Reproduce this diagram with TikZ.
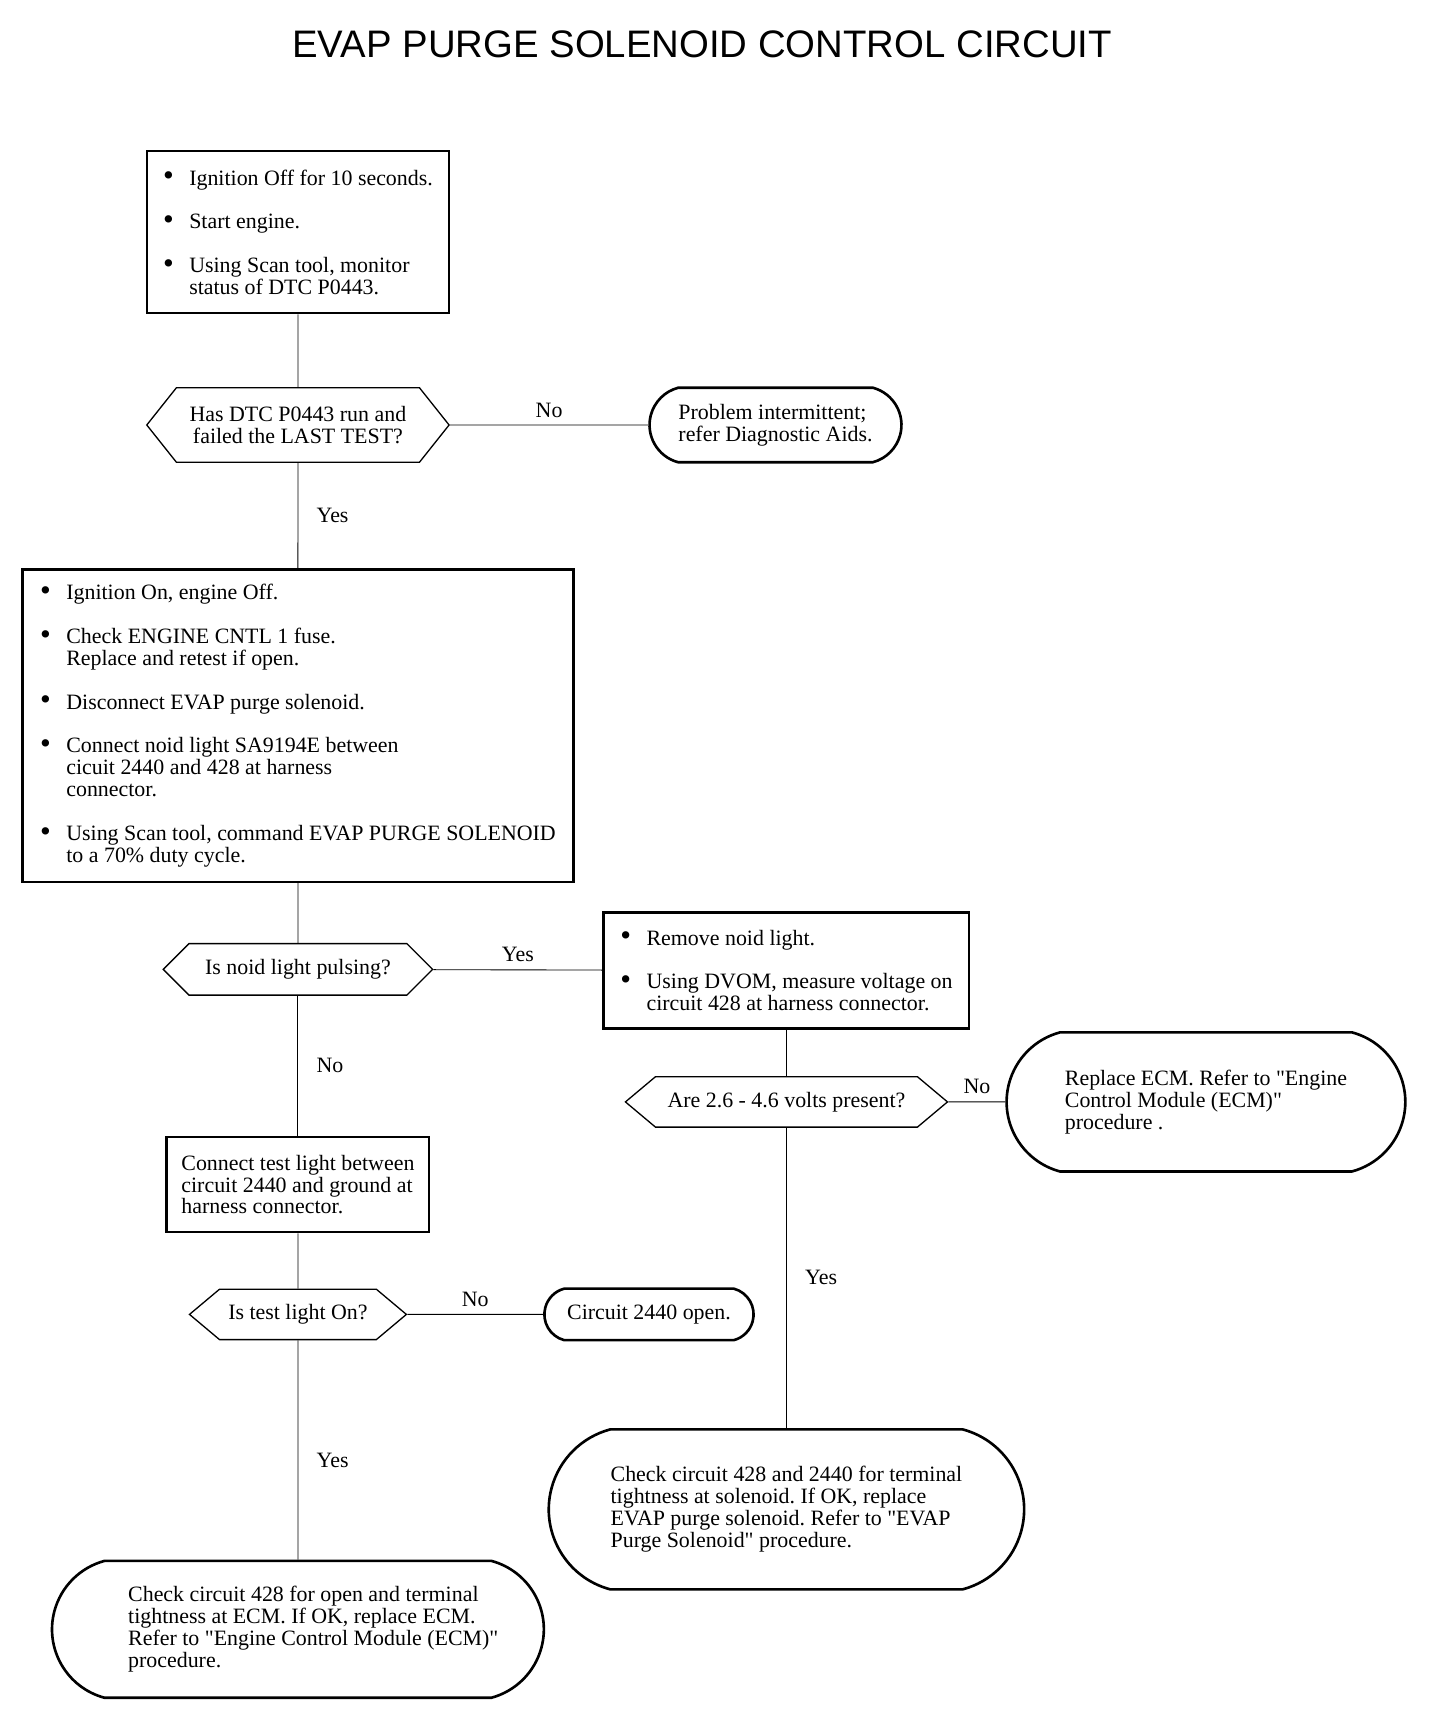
\documentclass[tikz,border=0pt]{standalone}
\usepackage{fontspec}
\setmainfont{Liberation Serif}[Ligatures=TeXOff]
\newfontfamily\titlefont{Liberation Sans}
\usetikzlibrary{shapes.misc,shapes.symbols}
\frenchspacing

\newcommand{\bitem}[1]{\makebox[12pt][l]{\raisebox{-0.4pt}{\fontsize{14}{10}\selectfont\textbullet}}#1}
\newcommand{\cont}{\hspace*{12pt}}

\begin{document}
\begin{tikzpicture}[x=0.5pt,y=-0.5pt,
    font=\fontsize{10}{10}\selectfont,
    stepbox/.style={rectangle,draw,line width=1pt,align=left,inner sep=0pt},
    askbox/.style={signal,signal to=east and west,draw,line width=0.6pt,align=center,inner sep=0pt},
    endbox/.style={rounded rectangle,rounded rectangle arc length=150,draw,line width=1.2pt,align=left,inner sep=0pt}]
\useasboundingbox (0,0) rectangle (1315,1563);

\node[font=\titlefont\fontsize{17.5}{20}\selectfont] (title) at (641,40) {EVAP PURGE SOLENOID CONTROL CIRCUIT};

% left column
\node[stepbox,minimum width=138pt,minimum height=74pt] (start) at (272,212)
    {\bitem{Ignition Off for 10 seconds.}\\[10pt]
     \bitem{Start engine.}\\[10pt]
     \bitem{Using Scan tool, monitor}\\
     \cont status of DTC P0443.};
\node[askbox,signal pointer angle=103,minimum width=138pt,minimum height=34pt] (lasttest) at (272,388)
    {Has DTC P0443 run and\\ failed the LAST TEST?};
\node[endbox,minimum width=115pt,minimum height=34pt] (intermit) at (708,388)
    {Problem intermittent;\\ refer Diagnostic Aids.};
\node[stepbox,minimum width=251.5pt,minimum height=142.5pt] (noidset) at (272,662.5)
    {\bitem{Ignition On, engine Off.}\\[10pt]
     \bitem{Check ENGINE CNTL 1 fuse.}\\
     \cont Replace and retest if open.\\[10pt]
     \bitem{Disconnect EVAP purge solenoid.}\\[10pt]
     \bitem{Connect noid light SA9194E between}\\
     \cont cicuit 2440 and 428 at harness\\
     \cont connector.\\[10pt]
     \bitem{Using Scan tool, command EVAP PURGE SOLENOID}\\
     \cont to a 70\% duty cycle.};
\node[askbox,signal pointer angle=90,minimum width=123pt,minimum height=23.5pt] (pulsing) at (272,885)
    {Is noid light pulsing?};
\node[stepbox,minimum width=120pt,minimum height=43.5pt] (testlight) at (272,1081.5)
    {Connect test light between\\ circuit 2440 and ground at\\ harness connector.};
\node[askbox,signal pointer angle=80,minimum width=99pt,minimum height=23pt] (lighton) at (272,1200)
    {Is test light On?};
\node[endbox,minimum width=95.5pt,minimum height=23.5pt] (open) at (592.5,1200)
    {Circuit 2440 open.};
\node[endbox,minimum width=224.5pt,minimum height=62.5pt] (ecmcheck) at (272,1487.5)
    {\hspace*{14pt}Check circuit 428 for open and terminal\\ \hspace*{14pt}tightness at ECM. If OK, replace ECM.\\
     \hspace*{14pt}Refer to "Engine Control Module (ECM)"\\ \hspace*{14pt}procedure.};

% right column
\node[stepbox,minimum width=167pt,minimum height=53pt] (dvom) at (718,886)
    {\bitem{Remove noid light.}\\[10pt]
     \bitem{Using DVOM, measure voltage on}\\
     \cont circuit 428 at harness connector.};
\node[askbox,signal pointer angle=80,minimum width=147pt,minimum height=23pt] (volts) at (718,1006)
    {Are 2.6 - 4.6 volts present?};
\node[endbox,minimum width=182pt,minimum height=63.5pt] (replecm) at (1101,1006)
    {Replace ECM. Refer to "Engine\\ Control Module (ECM)"\\ procedure .};
\node[endbox,minimum width=217pt,minimum height=73pt] (solenoid) at (718,1378)
    {Check circuit 428 and 2440 for terminal\\ tightness at solenoid. If OK, replace\\
     EVAP purge solenoid. Refer to "EVAP\\ Purge Solenoid" procedure.};

    \path (start) edge (lasttest);
    \path (lasttest) edge node[above]{No} (intermit);
    \path (lasttest) edge node[right=5pt]{Yes} (noidset);
    \path (noidset) edge (pulsing);
    \path (pulsing) edge node[above]{Yes} (dvom);
    \path (pulsing) edge node[right=5pt]{No} (testlight);
    \path (testlight) edge (lighton);
    \path (lighton) edge node[above]{No} (open);
    \path (lighton) edge node[right=5pt,pos=0.55]{Yes} (ecmcheck);

    \path (dvom) edge (volts);
    \path (volts) edge node[above]{No} (replecm);
    \path (volts) edge node[right=5pt]{Yes} (solenoid);

\end{tikzpicture}
\end{document}
